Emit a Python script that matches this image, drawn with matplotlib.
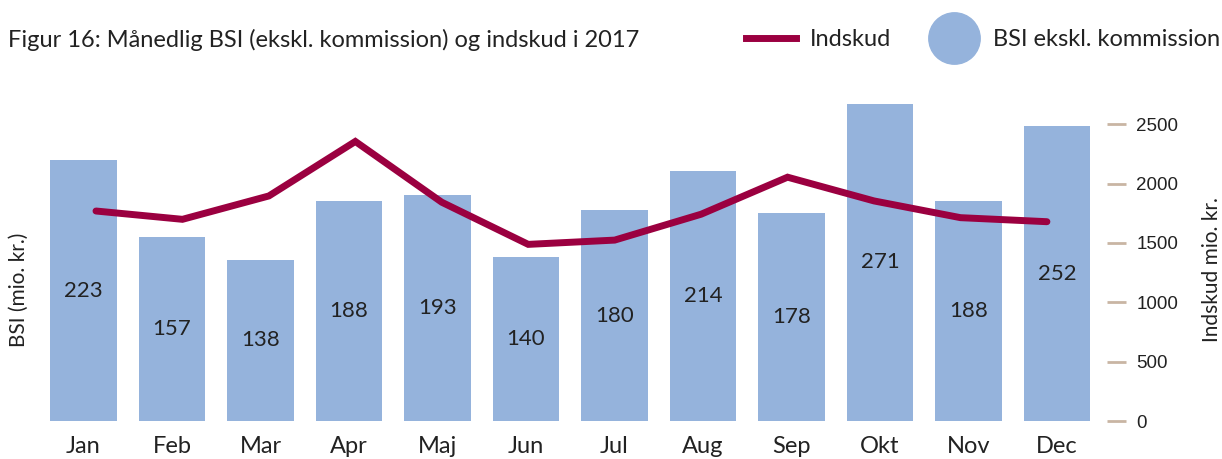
import matplotlib
matplotlib.use("Agg")
import matplotlib.pyplot as plt
from matplotlib.lines import Line2D
import numpy as np

months = ["Jan", "Feb", "Mar", "Apr", "Maj", "Jun", "Jul", "Aug", "Sep", "Okt", "Nov", "Dec"]
bsi = [223, 157, 138, 188, 193, 140, 180, 214, 178, 271, 188, 252]
indskud = [1769, 1699, 1896, 2355, 1843, 1488, 1524, 1742, 2054, 1854, 1713, 1679]
right_ticks = [0, 500, 1000, 1500, 2000, 2500]

BAR_COLOR = "#95b3dc"
LINE_COLOR = "#9b0040"
TICK_COLOR = "#c9b5a3"
TEXT_COLOR = "#222222"

plt.rcParams["font.family"] = ["Lato", "DejaVu Sans"]

W, H = 1222, 459
fig = plt.figure(figsize=(W / 100, H / 100), dpi=100)
left, right, bottom, top = 36, 1107, 421, 70
rect = [left / W, 1 - bottom / H, (right - left) / W, (bottom - top) / H]

def px_x(p):
    return (p - left) / (right - left)

def px_y(p):
    return (bottom - p) / (bottom - top)

ax = fig.add_axes(rect)
x = np.arange(len(months))
ax.bar(x, bsi, width=0.75, color=BAR_COLOR, zorder=1)
for xi, v in zip(x, bsi):
    ax.text(xi, v / 2, str(v), ha="center", va="center", fontsize=16, color=TEXT_COLOR)
ax.set_xlim(-0.537, 11.565)
ax.set_ylim(0, 300)
ax.set_xticks(x)
ax.set_xticklabels(months, fontsize=17, color=TEXT_COLOR)
ax.tick_params(axis="x", length=0, pad=11)
ax.set_yticks([])
for s in ax.spines.values():
    s.set_visible(False)
ax.set_ylabel("BSI (mio. kr.)", fontsize=15, color=TEXT_COLOR)
ax.yaxis.set_label_coords(px_x(29), px_y(290))

# line sits on its own, slightly narrower x-scale
ax2 = fig.add_axes(rect, frame_on=False)
ax2.plot(x, indskud, color=LINE_COLOR, lw=5, solid_capstyle="round", solid_joinstyle="miter", zorder=3)
ax2.set_xlim(-0.694, 11.695)
ax2.set_ylim(0, 2957)
ax2.set_xticks([])
ax2.yaxis.tick_right()
ax2.yaxis.set_label_position("right")
ax2.set_yticks(right_ticks)
ax2.set_yticklabels([str(t) for t in right_ticks], family="Liberation Sans", fontsize=13.5, color=TEXT_COLOR)
ax2.tick_params(axis="y", length=14, width=2, color=TICK_COLOR, pad=7)
ax2.set_ylabel("Indskud mio. kr.", fontsize=15, color=TEXT_COLOR)
ax2.yaxis.set_label_coords(px_x(1202), px_y(270))

fig.text(8 / W, 1 - 40 / H, "Figur 16: Månedlig BSI (ekskl. kommission) og indskud i 2017",
         fontsize=17, color=TEXT_COLOR, va="center", ha="left")

handles = [
    Line2D([], [], color=LINE_COLOR, lw=5),
    Line2D([], [], ls="none", marker="o", markersize=37, markerfacecolor=BAR_COLOR, markeredgecolor=BAR_COLOR),
]
fig.legend(handles, ["Indskud", "BSI ekskl. kommission"], loc="center right",
           bbox_to_anchor=(1220 / W, 1 - 40 / H), ncol=2, frameon=False, fontsize=17,
           handlelength=2.1, columnspacing=1.6, handletextpad=0.6, labelcolor=TEXT_COLOR,
           borderaxespad=0, borderpad=0)

fig.savefig("out.png", dpi=100)
